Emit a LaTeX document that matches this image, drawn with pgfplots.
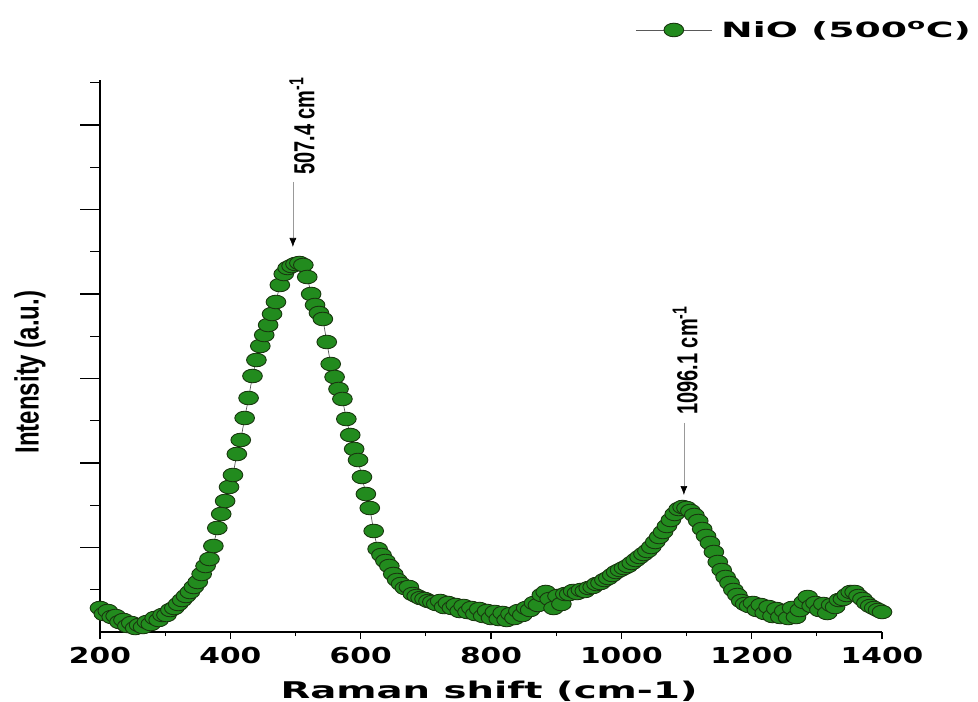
\documentclass[border=0pt]{standalone}
\usepackage{pgfplots}
\pgfplotsset{compat=1.18}
\usepackage{pgfplotstable}
\usetikzlibrary{arrows.meta}
\usepackage{fontspec}
\setmainfont{DejaVu Sans}
\newfontfamily\tickfont{DejaVu Sans}[FakeStretch=1.35]
\newfontfamily\labfont{DejaVu Sans}[FakeStretch=1.68]
\newfontfamily\legfont{DejaVu Sans}[FakeStretch=1.8]
\newfontfamily\annfont{Liberation Sans}
\definecolor{mgreen}{RGB}{34,139,30}
\definecolor{medge}{RGB}{25,55,15}

\pgfplotstableread{
x y
200 24
206 18
212 21
218 15
224 16
230 10
236 12
242 6
248 9
254 4
260 7
266 5
272 10
278 8
284 14
290 12
296 17
302 17
308 22
314 24
320 28
326 32
332 36
338 40
344 45
350 50
356 58
362 66
368 73
374 86
380 104
386 118
392 131
398 145
404 157
410 178
416 192
422 214
428 234
434 256
440 272
446 286
452 297
458 307
464 318
470 330
476 347
482 358
488 364
494 366
500 368
506 369
512 367
518 355
524 338
530 327
536 319
542 313
548 290
554 268
560 255
566 243
572 233
578 213
584 197
590 183
596 172
602 155
608 138
614 124
620 101
626 83
632 77
638 71
644 66
650 58
656 52
662 48
668 44
674 45
680 38
686 36
692 34
698 33
704 31
710 30
716 28
722 31
728 25
734 29
740 24
746 27
752 21
758 26
764 20
770 24
776 18
782 23
788 16
794 21
800 14
806 20
812 13
818 19
824 12
830 18
836 14
842 21
848 17
854 24
860 22
866 29
872 27
878 37
884 40
890 33
896 24
902 36
908 28
914 38
920 38
926 41
932 39
938 42
944 41
950 44
956 45
962 48
968 49
974 52
980 54
986 57
992 60
998 62
1004 64
1010 66
1016 69
1022 72
1028 75
1034 78
1040 81
1046 85
1052 90
1058 95
1064 100
1070 106
1076 112
1082 118
1088 123
1094 125
1100 124
1106 121
1112 117
1118 111
1124 103
1130 96
1136 89
1142 80
1148 70
1154 62
1160 55
1166 49
1172 42
1178 37
1184 31
1190 28
1196 26
1202 29
1208 22
1214 27
1220 19
1226 25
1232 16
1238 23
1244 15
1250 21
1256 14
1262 24
1268 15
1274 22
1280 30
1286 35
1292 26
1298 29
1304 22
1310 28
1316 19
1322 27
1328 25
1334 32
1340 33
1346 37
1352 40
1358 40
1364 36
1370 33
1376 29
1382 26
1388 24
1394 22
1400 20
}\nio

\begin{document}
\begin{tikzpicture}
\useasboundingbox (-100pt,-70pt) rectangle (878pt,632pt);
% y ticks (long major, short minor)
\begin{axis}[
  at={(0pt,0pt)}, anchor=south west, scale only axis,
  width=782pt, height=552pt,
  xmin=200, xmax=1400, ymin=0, ymax=552,
  hide x axis, axis y line=left, axis line style={draw=none},
  ytick={84.5,169,253.5,338,422.5,507},
  minor ytick={42.25,126.75,211.25,295.75,380.25,464.75,549.25},
  yticklabels={},
  tick align=outside, major tick length=20pt, minor tick length=10pt,
  every tick/.style={black, line width=1.3pt},
]
\end{axis}
\begin{axis}[
  at={(0pt,0pt)}, anchor=south west, scale only axis,
  width=782pt, height=552pt,
  xmin=200, xmax=1400, ymin=0, ymax=552,
  axis x line=bottom, axis y line=left,
  axis line style={line width=1.8pt, black, -},
  xtick={200,400,...,1400}, minor x tick num=1,
  ytick=\empty,
  tick align=outside, major tick length=7pt, minor tick length=4pt,
  every tick/.style={black, line width=1.3pt},
  xticklabel style={/pgf/number format/1000 sep={}, /pgf/number format/assume math mode=true,
    font=\tickfont\bfseries\fontsize{22}{26}\selectfont, yshift=-5pt},
  xlabel={Raman shift (cm-1)},
  every axis x label/.style={at={(axis description cs:0.4975,-0.107)}, anchor=center,
    font=\labfont\bfseries\fontsize{23}{27}\selectfont},
  ylabel={\scalebox{1.4}[1]{\rotatebox{90}{\annfont\bfseries\fontsize{24}{28}\selectfont Intensity (a.u.)}}},
  every axis y label/.style={at={(axis description cs:-0.0895,0.471)}, anchor=center},
  clip=false,
  legend style={at={(1.1255,1.0906)}, anchor=east, draw=none, fill=none,
    font=\legfont\bfseries\fontsize{21}{25}\selectfont, inner sep=0pt,
    nodes={inner xsep=9pt}},
  legend image code/.code={\draw[#1, mark repeat=2, mark phase=2] plot coordinates {(0pt,0pt) (38pt,0pt) (76pt,0pt)};},
]
\addplot[color=gray!70!black, line width=0.7pt, mark=*, mark size=6.8pt,
  mark options={xscale=1.45, fill=mgreen, draw=medge, line width=0.9pt, solid}]
  table[x=x, y=y] {\nio};
\addlegendentry{NiO (500\textsuperscript{o}C)}

\draw[gray!80, line width=0.6pt, -{Latex[black, length=9pt, width=7pt]}] (axis cs:496,450) -- (axis cs:496,385);
\node[anchor=south, inner sep=0pt] at (axis cs:510,457)
  {\scalebox{1.45}[1]{\rotatebox{90}{\annfont\bfseries\fontsize{20}{24}\selectfont 507.4 cm\textsuperscript{-1}}}};
\draw[gray!80, line width=0.6pt, -{Latex[black, length=9pt, width=7pt]}] (axis cs:1096,209) -- (axis cs:1096,137);
\node[anchor=south, inner sep=0pt] at (axis cs:1098,217)
  {\scalebox{1.45}[1]{\rotatebox{90}{\annfont\bfseries\fontsize{20}{24}\selectfont 1096.1 cm\textsuperscript{-1}}}};
\end{axis}
\end{tikzpicture}
\end{document}
